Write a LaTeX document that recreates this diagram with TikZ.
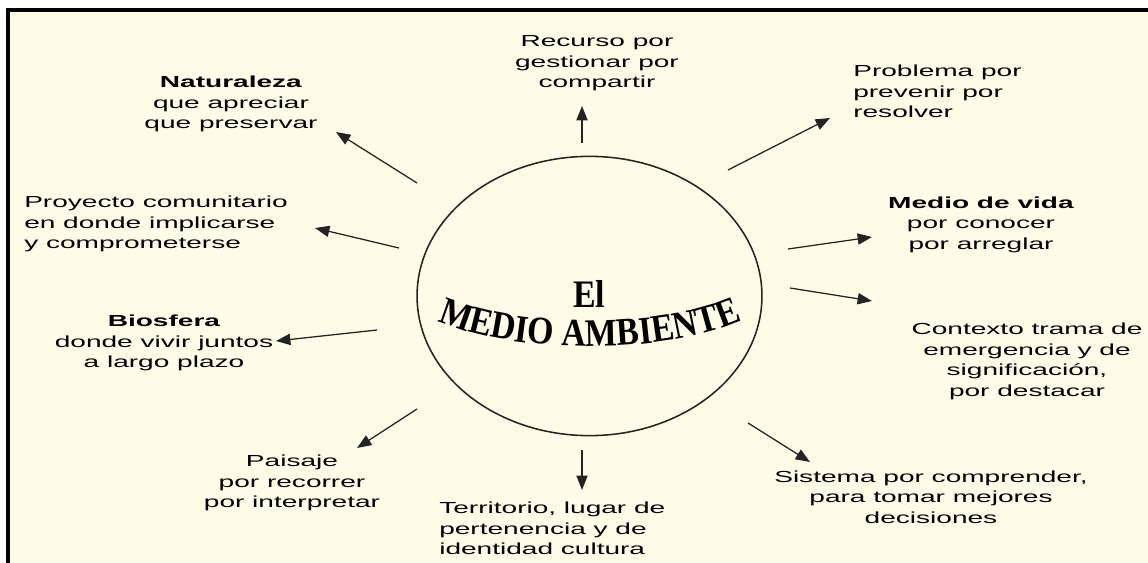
\documentclass[tikz,border=0pt]{standalone}
\usepackage{fontspec}
\setmainfont{Liberation Sans}
\newfontfamily\labelfont[FakeStretch=1.75]{Liberation Sans}
\newfontfamily\titlefont[FakeStretch=0.87]{Liberation Serif}
\definecolor{cream}{RGB}{255, 253, 232}
\definecolor{inkgray}{RGB}{35, 35, 35}
\usetikzlibrary{shapes.geometric, arrows.meta, decorations.text}

\begin{document}
\begin{tikzpicture}[x=0.025cm, y=-0.025cm,
  concept/.style={font=\labelfont\fontsize{11.4pt}{14.6pt}\selectfont, align=center, inner sep=0pt, text=black},
  arr/.style={-{Triangle[length=0.36cm, width=0.28cm]}, line width=0.9pt, inkgray},
]
  \useasboundingbox (0,0) rectangle (1148,563);

  % Frame
  \fill[cream] (10,12) rectangle (1148,563);
  \fill[black] (6,8) rectangle (1148,12);
  \fill[black] (6,8) rectangle (10,563);

  % Center
  \node[draw=inkgray, ellipse, line width=1.1pt, minimum width=8.62cm, minimum height=6.98cm] (env) at (589.5,296) {};
  \node[font=\titlefont\bfseries\fontsize{27.7pt}{30pt}\selectfont, inner sep=0pt, anchor=base] (el) at (589,308) {El};
  \path[decorate, decoration={text along path, text align=center,
    text={|\titlefont\bfseries\fontsize{27.7pt}{30pt}\selectfont|MEDIO AMBIENTE}}]
    (432,318) .. controls (510,356) and (670,356) .. (748,318);

  % Surrounding concepts
  \node[concept] (nat) at (231,104) {\textbf{Naturaleza}\\que apreciar\\que preservar};
  \node[concept] (rec) at (597,63.5) {Recurso por\\gestionar por\\compartir};
  \node[concept, align=left, anchor=west] (prob) at (853,91.5) {Problema por\\prevenir por\\resolver};
  \node[concept] (vida) at (981,224.5) {\textbf{Medio de vida}\\por conocer\\por arreglar};
  \node[concept] (ctx) at (1027,361.5) {Contexto trama de\\emergencia y de\\significación,\\por destacar};
  \node[concept] (sis) at (931,497) {Sistema por comprender,\\para tomar mejores\\decisiones};
  \node[concept, align=left, anchor=west] (ter) at (439,528.5) {Territorio, lugar de\\pertenencia y de\\identidad cultura};
  \node[concept] (pai) at (292,483) {Paisaje\\por recorrer\\por interpretar};
  \node[concept] (bio) at (164,343) {\textbf{Biosfera}\\donde vivir juntos\\a largo plazo};
  \node[concept, align=left, anchor=west] (pro) at (24,224) {Proyecto comunitario\\en donde implicarse\\y comprometerse};

  % Arrow ends
  \coordinate (nat-a) at (417,183);  \coordinate (nat-b) at (336,132);
  \coordinate (rec-a) at (582,143);  \coordinate (rec-b) at (582,106);
  \coordinate (prob-a) at (728,170); \coordinate (prob-b) at (830,118);
  \coordinate (vida-a) at (788,249); \coordinate (vida-b) at (872,237);
  \coordinate (ctx-a) at (790,288);  \coordinate (ctx-b) at (872,301);
  \coordinate (sis-a) at (748,423);  \coordinate (sis-b) at (810,462);
  \coordinate (ter-a) at (582,450);  \coordinate (ter-b) at (582,490);
  \coordinate (pai-a) at (417,409);  \coordinate (pai-b) at (357,448);
  \coordinate (bio-a) at (377,330);  \coordinate (bio-b) at (276,341);
  \coordinate (pro-a) at (399,248);  \coordinate (pro-b) at (315,228);

  \draw[arr] (nat-a) -- (nat-b);
  \draw[arr] (rec-a) -- (rec-b);
  \draw[arr] (prob-a) -- (prob-b);
  \draw[arr] (vida-a) -- (vida-b);
  \draw[arr] (ctx-a) -- (ctx-b);
  \draw[arr] (sis-a) -- (sis-b);
  \draw[arr] (ter-a) -- (ter-b);
  \draw[arr] (pai-a) -- (pai-b);
  \draw[arr] (bio-a) -- (bio-b);
  \draw[arr] (pro-a) -- (pro-b);
\end{tikzpicture}
\end{document}
